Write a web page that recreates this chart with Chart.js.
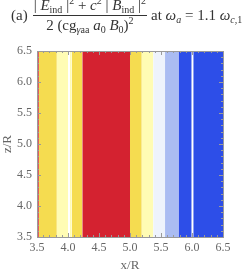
<!DOCTYPE html>
<html>
<head>
<meta charset="utf-8">
<script src="https://cdn.jsdelivr.net/npm/chart.js@4"></script>
<style>
  html, body { margin: 0; padding: 0; background: #fff; overflow: hidden; }
  #wrap { position: relative; width: 249px; height: 273px; }
  #title {
    position: absolute; left: 11px; top: -3px; white-space: nowrap;
    font-family: "Liberation Serif", "DejaVu Serif", serif; font-size: 15px; color: #333;
    display: flex; align-items: center;
  }
  .frac { display: inline-flex; flex-direction: column; align-items: center; margin: 0 4px 0 5px; }
  .num { border-bottom: 1px solid #333; padding: 0 1px 1px 1px; line-height: 17px; }
  .den { line-height: 17px; padding-top: 1px; }
  i { font-style: italic; }
  sub { font-size: 10px; vertical-align: -3px; line-height: 0; }
  sup { font-size: 10px; vertical-align: 6px; line-height: 0; }
</style>
</head>
<body>
<div id="wrap">
  <canvas id="chart" width="249" height="273"></canvas>
  <div id="title">
    <span>(a)</span>
    <span class="frac">
      <span class="num">| <i>E</i><sub>ind</sub> |<sup>2</sup> + <i>c</i><sup>2</sup> | <i>B</i><sub>ind</sub> |<sup>2</sup></span>
      <span class="den">2 (cg<sub><i>γ</i>aa</sub> <i>a</i><sub>0</sub> <i>B</i><sub>0</sub>)<sup>2</sup></span>
    </span>
    <span>at <i>ω</i><sub><i>a</i></sub> = 1.1 <i>ω</i><sub><i>c</i>,1</sub></span>
  </div>
</div>
<script>
// band edges along x/R and the colour level of each band
const bandEdges = [3.5, 3.53, 3.82, 4.0, 4.03, 4.06, 4.23, 5.0, 5.19, 5.375, 5.565, 5.78, 5.995, 6.02, 6.5];
const bandLevels = ['red', 'yellow', 'paleYellow', 'white', 'paleYellow', 'yellow', 'red',
                    'yellow', 'paleYellow', 'paleBlue', 'lightBlue', 'blue', 'white', 'blue'];
const zRange = [3.5, 6.5];
const xTicks = [3.5, 4.0, 4.5, 5.0, 5.5, 6.0, 6.5];
const yTicks = [3.5, 4.0, 4.5, 5.0, 5.5, 6.0, 6.5];

const palette = {
    red: '#d42230',
    yellow: '#f5dc50',
    paleYellow: '#fffcb4',
    white: '#ffffff',
    paleBlue: '#eef3fc',
    lightBlue: '#aabcf2',
    blue: '#2d4ee8'
};

const serif = "'Liberation Serif', 'DejaVu Serif', serif";

// one filled line per band, filled down to the bottom of the plot
const datasets = bandLevels.map(function(level, i) {
    return {
        data: [{ x: bandEdges[i], y: zRange[1] }, { x: bandEdges[i + 1], y: zRange[1] }],
        borderWidth: 0,
        borderColor: palette[level],
        backgroundColor: palette[level],
        pointRadius: 0,
        fill: 'start'
    };
});

// Mathematica style frame with inward ticks on all four sides
const frameTicks = {
    id: 'frameTicks',
    afterDraw(chart) {
        const ctx = chart.ctx;
        const a = chart.chartArea;
        const xs = chart.scales.x, ys = chart.scales.y;
        ctx.save();
        ctx.strokeStyle = '#9a9a9a';
        ctx.lineWidth = 1;
        ctx.strokeRect(Math.round(a.left) + 0.5, Math.round(a.top) + 0.5,
                       Math.round(a.right - a.left), Math.round(a.bottom - a.top));
        ctx.beginPath();
        for (let k = 0; k <= 30; k++) {
            const v = 3.5 + k * 0.1;
            const major = k % 5 === 0;
            const len = major ? 4 : 2;
            const px = Math.round(xs.getPixelForValue(v)) + 0.5;
            ctx.moveTo(px, a.bottom); ctx.lineTo(px, a.bottom - len);
            ctx.moveTo(px, a.top); ctx.lineTo(px, a.top + len);
            const py = Math.round(ys.getPixelForValue(v)) + 0.5;
            ctx.moveTo(a.left, py); ctx.lineTo(a.left + len, py);
            ctx.moveTo(a.right, py); ctx.lineTo(a.right - len, py);
        }
        ctx.stroke();
        ctx.restore();
    }
};

new Chart(document.getElementById('chart'), {
    type: 'line',
    data: { datasets: datasets },
    options: {
        responsive: false,
        animation: false,
        events: [],
        layout: { padding: { top: 51, right: 26, left: 0, bottom: 0 } },
        plugins: { legend: { display: false }, tooltip: { enabled: false } },
        scales: {
            x: {
                type: 'linear', min: 3.5, max: 6.5,
                afterBuildTicks: function(s) { s.ticks = xTicks.map(v => ({ value: v })); },
                afterFit: function(s) { s.height = 36; },
                grid: { display: false, drawTicks: false },
                border: { display: false },
                ticks: {
                    padding: 4, color: '#666',
                    font: { family: serif, size: 12 },
                    callback: v => v.toFixed(1)
                },
                title: {
                    display: true, text: 'x/R', color: '#666', padding: { top: 2, bottom: 0 },
                    font: { family: serif, size: 13 }
                }
            },
            y: {
                type: 'linear', min: zRange[0], max: zRange[1],
                afterBuildTicks: function(s) { s.ticks = yTicks.map(v => ({ value: v })); },
                afterFit: function(s) { s.width = 37; },
                grid: { display: false, drawTicks: false },
                border: { display: false },
                ticks: {
                    padding: 5, color: '#666',
                    font: { family: serif, size: 12 },
                    callback: v => v.toFixed(1)
                },
                title: {
                    display: true, text: 'z/R', color: '#666', padding: { top: 0, bottom: 0 },
                    font: { family: serif, size: 13 }
                }
            }
        }
    },
    plugins: [frameTicks]
});
</script>
</body>
</html>
